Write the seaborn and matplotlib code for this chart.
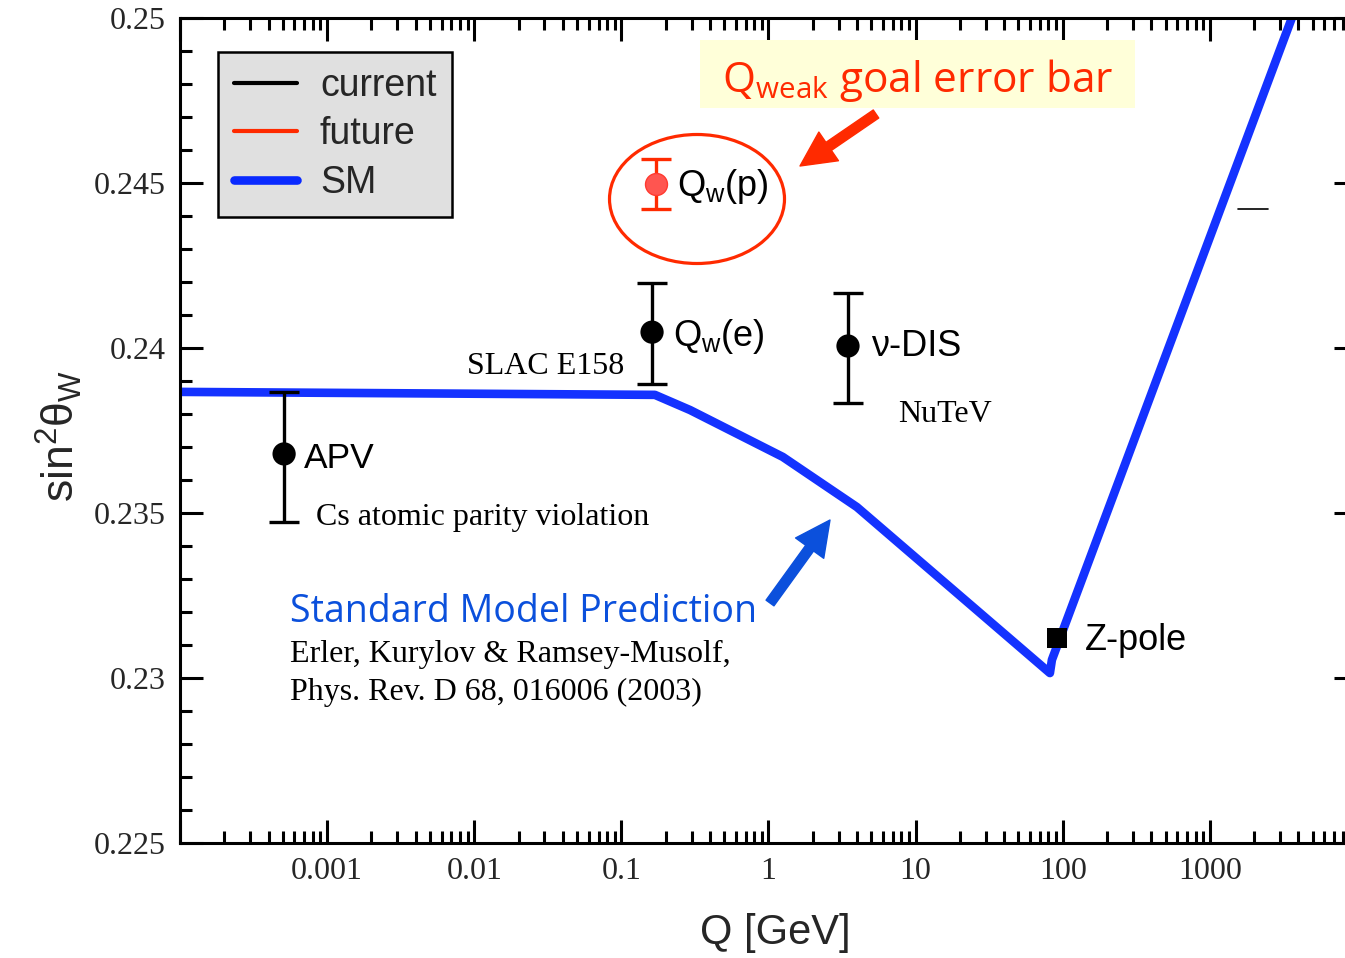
import numpy as np
import pandas as pd
import matplotlib
matplotlib.use("Agg")
import matplotlib.pyplot as plt
import seaborn as sns
from matplotlib.patches import Ellipse, Rectangle
from matplotlib.lines import Line2D
from matplotlib.ticker import FixedLocator, FixedFormatter, NullFormatter

# ---------------- data ----------------
sm_q = [1e-4, 0.169, 0.293, 1.25, 3.99, 81.8, 84.4, 3606]
sm_s2w = [0.23867, 0.23858, 0.23812, 0.23670, 0.23518, 0.23015, 0.23055, 0.25000]

cur_names = ["APV", "Qw(e)", "nu-DIS"]
cur_q = [5.1e-4, 0.1616, 3.47]
cur_s2w = [0.23679, 0.24048, 0.24006]
cur_err_lo = [0.00206, 0.00158, 0.00173]
cur_err_hi = [0.00188, 0.00148, 0.00161]

fut_q = [0.172]
fut_s2w = [0.24497]
fut_err = [0.00077]

zpole_q = [91.19]
zpole_s2w = [0.23121]

xticks_major = [1e-4, 1e-3, 1e-2, 1e-1, 1, 10, 100, 1000, 1e4]
xtick_labels = ["", "0.001", "0.01", "0.1", "1", "10", "100", "1000", ""]
yticks_major = [0.225, 0.23, 0.235, 0.24, 0.245, 0.25]
ytick_labels = ["0.225", "0.23", "0.235", "0.24", "0.245", "0.25"]

# ---------------- style ----------------
sns.set_theme(style="ticks")
plt.rcParams["font.family"] = ["Liberation Sans", "DejaVu Sans"]
plt.rcParams["mathtext.fontset"] = "dejavusans"

SANS = ["Liberation Sans", "DejaVu Sans"]
SERIF = ["Liberation Serif", "DejaVu Serif"]
COMIC = ["Open Sans", "DejaVu Sans"]
RED = "#ff2a00"
SMBLUE = "#1432ff"
TXTBLUE = "#0b50dc"

W, H = 1345, 958
fig = plt.figure(figsize=(W / 100, H / 100), dpi=100)
L, R, T, B = 180, 1357, 18, 843
ax = fig.add_axes([L / W, (H - B) / H, (R - L) / W, (B - T) / H])


def af(px, py):
    return ((px - L) / (R - L), (B - py) / (B - T))


# SM curve
sm_df = pd.DataFrame({"Q": sm_q, "s2w": sm_s2w})
sns.lineplot(data=sm_df, x="Q", y="s2w", ax=ax, color=SMBLUE, lw=6.2,
             sort=False, estimator=None, zorder=2, solid_capstyle="butt")

# current measurements
ax.errorbar(cur_q, cur_s2w, yerr=[cur_err_lo, cur_err_hi], fmt="none",
            ecolor="black", elinewidth=2.4, capsize=10.8, capthick=2.4, zorder=3)
cur_df = pd.DataFrame({"Q": cur_q, "s2w": cur_s2w, "name": cur_names})
sns.scatterplot(data=cur_df, x="Q", y="s2w", ax=ax, color="black", s=280,
                edgecolor="none", zorder=4, legend=False)

# future Qweak
ax.errorbar(fut_q, fut_s2w, yerr=[fut_err, fut_err], fmt="none",
            ecolor=RED, elinewidth=2.4, capsize=10.8, capthick=2.4, zorder=3)
sns.scatterplot(x=fut_q, y=fut_s2w, ax=ax, color="#ff5550", s=250,
                edgecolor="#ff3a30", linewidth=1.0, zorder=4, legend=False)

# Z-pole
sns.scatterplot(x=zpole_q, y=zpole_s2w, ax=ax, color="black", marker="s",
                s=200, edgecolor="none", zorder=4, legend=False)

# axes
ax.set_xscale("log")
ax.set_xlim(1e-4, 1e4)
ax.set_ylim(0.225, 0.25)
ax.xaxis.set_major_locator(FixedLocator(xticks_major))
ax.xaxis.set_major_formatter(FixedFormatter(xtick_labels))
minor_x = [m * 10.0 ** k for k in range(-4, 4) for m in range(2, 10)]
ax.xaxis.set_minor_locator(FixedLocator(minor_x))
ax.xaxis.set_minor_formatter(NullFormatter())
ax.yaxis.set_major_locator(FixedLocator(yticks_major))
ax.yaxis.set_major_formatter(FixedFormatter(ytick_labels))
ax.yaxis.set_minor_locator(FixedLocator(np.arange(0.225, 0.2505, 0.001)))
ax.tick_params(which="both", direction="in", top=True, right=True, width=2.2,
               color="black")
ax.tick_params(which="major", length=16.5, labelsize=23, pad=10)
ax.tick_params(which="minor", length=8.6)
for lab in ax.get_xticklabels() + ax.get_yticklabels():
    lab.set_fontfamily(SERIF)
for s in ax.spines.values():
    s.set_linewidth(2.2)
    s.set_color("black")

ax.set_xlabel("Q [GeV]", fontsize=30, family=SANS)
ax.set_ylabel(r"sin$\mathregular{^2}$θ$\mathregular{_W}$", fontsize=32, family=SANS)
ax.xaxis.set_label_coords(af(775, 0)[0], af(0, 913)[1])
ax.yaxis.set_label_coords(af(84, 0)[0], af(0, 436)[1])

# legend
handles = [Line2D([], [], color="black", lw=3.0),
           Line2D([], [], color=RED, lw=3.0),
           Line2D([], [], color="#0a2aff", lw=6.2)]
leg = ax.legend(handles, ["current", "future", "SM"], loc="upper left",
                bbox_to_anchor=af(218, 52), borderaxespad=0, fontsize=27,
                frameon=True, fancybox=False, framealpha=1, facecolor="#e0e0e0",
                edgecolor="black", handlelength=1.7, handletextpad=0.6,
                labelspacing=0.34, borderpad=0.42)
leg.get_frame().set_linewidth(1.8)
for t in leg.get_texts():
    t.set_fontfamily(SANS)

# text labels
def txt(px, py, s, size, fam, color="black", **kw):
    x, y = af(px, py)
    ax.text(x, y, s, transform=ax.transAxes, fontsize=size, family=fam,
            color=color, ha="left", va="center", **kw)

txt(304, 458, "APV", 25.5, SANS)
txt(316, 518, "Cs atomic parity violation", 23, SERIF)
txt(467, 366, "SLAC E158", 23, SERIF)
txt(673, 337, r"Q$\mathregular{_w}$(e)", 26, SANS)
txt(871, 346, "ν-DIS", 26, SANS)
txt(898, 415, "NuTeV", 23, SERIF)
txt(677, 186, r"Q$\mathregular{_w}$(p)", 26, SANS)
txt(1085, 640, "Z-pole", 26, SANS)
txt(290, 612, "Standard Model Prediction", 27, COMIC, color=TXTBLUE)
txt(290, 654, "Erler, Kurylov & Ramsey-Musolf,", 23, SERIF)
txt(290, 692, "Phys. Rev. D 68, 016006 (2003)", 23, SERIF)

# Qweak goal box
x0, y0 = af(700, 108)
x1, y1 = af(1135, 40)
ax.add_patch(Rectangle((x0, y0), x1 - x0, y1 - y0, transform=ax.transAxes,
                       facecolor="#ffffd9", edgecolor="none", zorder=1))
txt(722, 80, r"Q$\mathregular{_{weak}}$ goal error bar", 30.5, COMIC, color=RED)

# ellipse
ex, ey = af(697, 199)
ax.add_patch(Ellipse((ex, ey), 175 / (R - L), 129 / (B - T), transform=ax.transAxes,
                     fill=False, edgecolor=RED, lw=2.3, zorder=5))

# arrows
ax.annotate("", xy=af(800, 166), xytext=af(876, 114), xycoords="axes fraction",
            arrowprops=dict(arrowstyle="simple,head_length=1.0,head_width=1.0,tail_width=0.28",
                            mutation_scale=25, color=RED, shrinkA=0, shrinkB=0))
ax.annotate("", xy=af(830, 520), xytext=af(770, 603), xycoords="axes fraction",
            arrowprops=dict(arrowstyle="simple,head_length=1.0,head_width=1.0,tail_width=0.28",
                            mutation_scale=25, color=TXTBLUE, shrinkA=0, shrinkB=0))

# stray short mark
sx0, sy = af(1238, 209)
sx1, _ = af(1268, 209)
ax.plot([sx0, sx1], [sy, sy], transform=ax.transAxes, color="black", lw=1.2)

fig.savefig("out.png", dpi=100)
